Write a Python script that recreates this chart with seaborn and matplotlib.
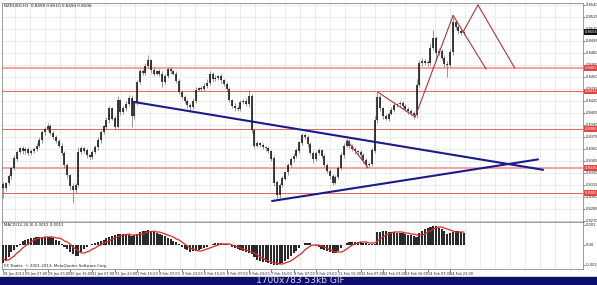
import matplotlib
matplotlib.use("Agg")
import matplotlib.pyplot as plt
from matplotlib.patches import Rectangle
import numpy as np
import pandas as pd
import seaborn as sns

# ---------------- data (prices in pips, i.e. price * 10000) ----------------
chart_title = "NZDUSD,H1  0.8498 0.8510 0.8494 0.8506"
first_open = 8316
close_pips = [
    8311, 8317, 8326, 8336, 8348, 8356, 8361, 8357, 8360, 8355,
    8357, 8360, 8364, 8371, 8381, 8385, 8388, 8380, 8375, 8370,
    8364, 8355, 8340, 8327, 8314, 8309, 8315, 8356, 8361, 8358,
    8352, 8350, 8356, 8362, 8371, 8381, 8388, 8396, 8411, 8398,
    8388, 8421, 8406, 8411, 8416, 8424, 8401, 8417, 8444, 8457,
    8455, 8464, 8471, 8459, 8454, 8457, 8454, 8444, 8451, 8460,
    8457, 8454, 8445, 8431, 8425, 8420, 8415, 8412, 8420, 8434,
    8436, 8435, 8439, 8442, 8454, 8447, 8449, 8451, 8446, 8441,
    8435, 8421, 8414, 8411, 8410, 8419, 8420, 8416, 8426, 8384,
    8364, 8367, 8365, 8362, 8361, 8357, 8348, 8318, 8302, 8315,
    8323, 8331, 8340, 8347, 8351, 8358, 8368, 8377, 8375, 8366,
    8355, 8347, 8355, 8358, 8351, 8340, 8332, 8326, 8318, 8325,
    8336, 8352, 8364, 8370, 8364, 8360, 8357, 8356, 8352, 8346,
    8340, 8341, 8358, 8396, 8425, 8411, 8401, 8398, 8404, 8409,
    8415, 8416, 8417, 8414, 8410, 8407, 8405, 8402, 8440, 8467,
    8470, 8467, 8468, 8486, 8498, 8480, 8482, 8474, 8466, 8465,
    8481, 8518, 8512, 8507, 8505, 8506,
]
upper_wick = [
    3, 2, 3, 2, 4, 3, 2, 3, 2, 3,
    3, 2, 3, 4, 3, 2, 4, 3, 2, 3,
    2, 3, 2, 3, 2, 3, 3, 6, 3, 2,
    3, 2, 3, 3, 4, 3, 2, 4, 3, 2,
    3, 5, 2, 3, 4, 3, 4, 3, 2, 3,
    3, 3, 6, 2, 3, 2, 3, 4, 3, 2,
    3, 2, 3, 2, 3, 3, 2, 3, 4, 3,
    2, 3, 3, 5, 3, 2, 3, 2, 3, 2,
    3, 3, 2, 4, 3, 2, 3, 4, 8, 3,
    2, 3, 2, 3, 2, 3, 2, 3, 3, 2,
    3, 2, 3, 3, 4, 3, 2, 3, 3, 2,
    3, 3, 2, 3, 2, 3, 2, 3, 3, 2,
    3, 4, 3, 2, 3, 2, 3, 2, 3, 3,
    3, 3, 3, 5, 6, 3, 2, 3, 2, 3,
    3, 2, 3, 3, 2, 3, 3, 2, 8, 4,
    4, 3, 3, 6, 11, 3, 4, 3, 3, 4,
    4, 7, 3, 3, 3, 2,
]
lower_wick = [
    12, 3, 2, 3, 2, 3, 2, 3, 3, 2,
    3, 2, 3, 2, 3, 4, 2, 3, 2, 3,
    2, 3, 4, 3, 5, 17, 4, 3, 2, 3,
    3, 2, 3, 2, 3, 3, 2, 3, 3, 2,
    3, 2, 3, 2, 3, 2, 14, 3, 2, 3,
    3, 2, 3, 4, 3, 2, 3, 7, 3, 2,
    3, 2, 3, 2, 3, 3, 4, 3, 2, 3,
    2, 3, 2, 3, 2, 3, 2, 3, 3, 2,
    3, 2, 3, 4, 3, 2, 3, 2, 3, 4,
    3, 2, 3, 2, 3, 2, 3, 4, 6, 3,
    3, 2, 3, 2, 3, 2, 3, 3, 2, 3,
    3, 4, 2, 3, 2, 3, 2, 3, 3, 2,
    3, 2, 3, 2, 3, 2, 3, 2, 3, 3,
    4, 3, 2, 3, 3, 4, 3, 2, 3, 2,
    3, 2, 3, 3, 2, 3, 3, 5, 3, 2,
    3, 2, 3, 3, 2, 10, 3, 3, 4, 15,
    3, 3, 2, 3, 2, 2,
]
# MACD(12,26,9) in units of 0.0001
macd_main = [
    -18, -16, -12, -7, -5, -2, 1, 4, 5, 6,
    7, 7, 8, 8, 8, 8, 8, 8, 7, 5,
    4, 1, -2, -4, -7, -9, -11, -11, -7, -4,
    -2, 0, 1, 2, 3, 4, 5, 7, 8, 9,
    10, 11, 11, 11, 11, 10, 9, 10, 11, 13,
    14, 14, 15, 14, 13, 12, 11, 10, 9, 7,
    6, 4, 3, 1, -2, -4, -5, -7, -6, -6,
    -5, -4, -3, -2, 0, 1, 2, 2, 2, 1,
    1, 0, -2, -3, -4, -5, -6, -7, -8, -9,
    -12, -15, -16, -17, -17, -18, -19, -20, -20, -19,
    -18, -16, -14, -11, -8, -6, -3, 0, 2, 2,
    2, 0, -1, -2, -4, -5, -6, -7, -8, -8,
    -6, -3, 0, 2, 3, 3, 3, 3, 3, 2,
    2, 1, 1, 1, 13, 13, 14, 14, 13, 13,
    13, 12, 12, 12, 11, 10, 10, 9, 8, 12,
    14, 16, 17, 18, 19, 19, 17, 16, 14, 11,
    12, 13, 14, 14, 13, 12,
]
macd_signal = [
    -14, -15, -15, -13, -11, -8, -6, -3, -1, 1,
    3, 5, 6, 7, 7, 8, 8, 8, 8, 7,
    7, 6, 4, 3, 1, -2, -4, -6, -8, -8,
    -7, -6, -4, -3, -1, 0, 2, 3, 4, 6,
    7, 8, 9, 10, 10, 11, 10, 10, 10, 11,
    11, 12, 13, 13, 14, 13, 13, 12, 11, 10,
    9, 8, 6, 5, 3, 1, -1, -3, -4, -5,
    -6, -6, -5, -4, -3, -2, -1, 0, 1, 1,
    1, 1, 0, -1, -2, -3, -4, -5, -6, -7,
    -8, -10, -12, -13, -15, -16, -17, -18, -18, -19,
    -19, -18, -17, -16, -14, -12, -10, -8, -5, -3,
    -1, 0, 0, 0, -1, -2, -3, -5, -6, -7,
    -7, -7, -6, -4, -2, 0, 1, 2, 3, 3,
    3, 2, 2, 2, 4, 6, 8, 10, 11, 12,
    13, 13, 13, 13, 12, 12, 11, 11, 10, 10,
    10, 11, 13, 14, 16, 17, 18, 18, 17, 16,
    15, 14, 13, 13, 13, 13,
]
level_pips = [8461, 8432, 8385, 8336, 8305]
level_kind = ["thick", "thin", "thin", "thick", "thin"]
# trend lines: (bar index, pips) start / end
blue_start_idx = [46.5, 96.3]
blue_start_pips = [8419, 8295]
blue_end_idx = [193.3, 191.5]
blue_end_pips = [8334, 8347]
red_start_idx = [123.1, 134.2, 147.5, 161.1, 164.6, 170.0]
red_start_pips = [8371, 8431, 8400, 8527, 8506, 8540]
red_end_idx = [130.6, 147.5, 161.1, 172.9, 170.0, 183.2]
red_end_pips = [8337, 8400, 8527, 8460, 8540, 8461]
time_labels = [
    "28 Jan 2013", "29 Jan 07:00", "29 Jan 23:00", "30 Jan 15:00", "31 Jan 07:00",
    "31 Jan 23:00", "1 Feb 15:00", "4 Feb 07:00", "4 Feb 23:00", "5 Feb 15:00",
    "6 Feb 07:00", "6 Feb 23:00", "7 Feb 15:00", "8 Feb 07:00", "8 Feb 23:00",
    "11 Feb 15:00", "12 Feb 07:00", "12 Feb 23:00", "13 Feb 15:00", "14 Feb 07:00",
    "14 Feb 23:00",
]
price_tick_pips = [8540 - 15 * k for k in range(19)]
macd_ticks = [20, 0, -20]
macd_tick_labels = ["0.002", "0.00", "-0.002"]
macd_title = "MACD(12,26,9) 0.0012 0.0013"
copyright_text = "FX Trader, \u00a9 2001-2013, MetaQuotes Software Corp."
status_text = "1700x783 53kb GIF"

# ---------------- build frame ----------------
n = len(close_pips)
df = pd.DataFrame({
    "idx": np.arange(n),
    "close": np.array(close_pips) / 1e4,
    "open": np.array([first_open] + close_pips[:-1]) / 1e4,
    "up": np.array(upper_wick) / 1e4,
    "dn": np.array(lower_wick) / 1e4,
    "macd": macd_main,
    "signal": macd_signal,
})
df["body_hi"] = df[["open", "close"]].max(axis=1)
df["body_lo"] = df[["open", "close"]].min(axis=1)
df["high"] = df["body_hi"] + df["up"]
df["low"] = df["body_lo"] - df["dn"]

sns.set_style("white")
plt.rcParams["font.family"] = ["DejaVu Sans"]

W, H = 597, 285
fig = plt.figure(figsize=(W / 100, H / 100), dpi=100)
fig.patch.set_facecolor("white")

left_px, right_px = 2, 583
main_top, main_bot = 3, 222
macd_top, macd_bot = 222, 269
ax = fig.add_axes([left_px / W, 1 - main_bot / H, (right_px - left_px) / W, (main_bot - main_top) / H])
axm = fig.add_axes([left_px / W, 1 - macd_bot / H, (right_px - left_px) / W, (macd_bot - macd_top) / H], sharex=ax)

bar_px = 2.794
x0 = (left_px - 3) / bar_px
x1 = (right_px - 3) / bar_px
ax.set_xlim(x0, x1)
ax.set_ylim(0.826875, 0.854250)
axm.set_ylim(-24, 23)

# grid
vgrid = [(px - 3) / bar_px for px in range(0, right_px, 15)]
for a in (ax, axm):
    for v in vgrid:
        a.axvline(v, color="#e4e4e4", lw=0.5, zorder=0)
for p in price_tick_pips:
    ax.axhline(p / 1e4, color="#e4e4e4", lw=0.5, zorder=0)

# levels
for lv, kind in zip(level_pips, level_kind):
    if kind == "thick":
        ax.axhline(lv / 1e4, color="#f4a4a4", lw=1.5, zorder=1)
    else:
        ax.axhline(lv / 1e4, color="#e06666", lw=0.7, zorder=1)

# candles
ax.vlines(df["idx"], df["low"], df["high"], color="#707070", lw=0.5, zorder=3)
ax.vlines(df["idx"], df["body_lo"], df["body_hi"] + 0.00003, color="#1e1e1e", lw=1.2, zorder=4)

# trend lines
for xs, ys, xe, ye in zip(blue_start_idx, blue_start_pips, blue_end_idx, blue_end_pips):
    sns.lineplot(x=[xs, xe], y=[ys / 1e4, ye / 1e4], ax=ax, color="#1a1a8a", lw=1.5, zorder=5)
for xs, ys, xe, ye in zip(red_start_idx, red_start_pips, red_end_idx, red_end_pips):
    ax.plot([xs, xe], [ys / 1e4, ye / 1e4], color="#b03434", lw=0.8, zorder=5)

# right price axis
lab_fs = 2.6
ax.yaxis.tick_right()
ax.set_yticks([p / 1e4 for p in price_tick_pips])
ax.set_yticklabels([f"{p / 1e4:.4f}" for p in price_tick_pips])
ax.tick_params(axis="y", labelsize=lab_fs, length=1.2, pad=0.8, colors="#202020", width=0.4)
ax.tick_params(axis="x", bottom=False, labelbottom=False)
for lv in level_pips:
    ax.text(1.0025, lv / 1e4, f"{lv / 1e4:.4f}", transform=ax.get_yaxis_transform(),
            fontsize=lab_fs, color="white", va="center", ha="left", clip_on=False, zorder=10,
            bbox=dict(boxstyle="square,pad=0.2", fc="#e04444", ec="none"))
last = close_pips[-1]
ax.text(1.0025, last / 1e4, f"{last / 1e4:.4f}", transform=ax.get_yaxis_transform(),
        fontsize=lab_fs, color="white", va="center", ha="left", clip_on=False, zorder=10,
        bbox=dict(boxstyle="square,pad=0.2", fc="#101010", ec="none"))
ax.text(0.003, 0.995, chart_title, transform=ax.transAxes, fontsize=3.0, va="top", ha="left", color="#202020")
ax.set_ylabel("")
ax.set_xlabel("")

# MACD panel
axm.bar(df["idx"], df["macd"], width=0.75, color="#2a2a2a", linewidth=0, zorder=3)
sns.lineplot(data=df, x="idx", y="signal", ax=axm, color="#e02828", lw=0.9, zorder=4)
axm.yaxis.tick_right()
axm.set_yticks(macd_ticks)
axm.set_yticklabels(macd_tick_labels)
axm.tick_params(axis="y", labelsize=lab_fs, length=1.2, pad=0.8, colors="#202020", width=0.4)
tick_pos = list(range(0, 8 * len(time_labels), 8))
axm.set_xticks(tick_pos)
axm.set_xticklabels(time_labels, ha="left")
axm.tick_params(axis="x", labelsize=2.5, length=2, pad=0.5, colors="#202020", width=0.4, bottom=True)
axm.text(0.003, 0.97, macd_title, transform=axm.transAxes, fontsize=2.8, va="top", ha="left", color="#202020")
axm.text(0.003, 0.03, copyright_text, transform=axm.transAxes, fontsize=2.8, va="bottom", ha="left", color="#202020")
axm.set_ylabel("")
axm.set_xlabel("")

for a in (ax, axm):
    for s in a.spines.values():
        s.set_color("#8a8a8a")
        s.set_linewidth(0.6)
ax.spines["bottom"].set_color("#505050")
ax.spines["bottom"].set_linewidth(1.0)

# status bar at the bottom
fig.patches.append(Rectangle((0, 0), 1, 8.5 / H, transform=fig.transFigure, color="#0e0e6c", zorder=0))
fig.text(300 / W, 4.2 / H, status_text, color="#d8d8e8", fontsize=6.5, ha="center", va="center")

fig.savefig("out.png", dpi=100)
